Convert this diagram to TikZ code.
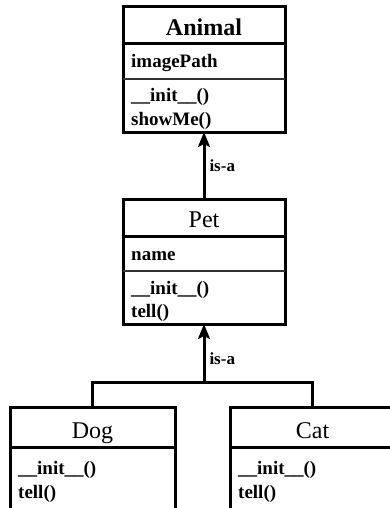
\documentclass[tikz,border=0pt]{standalone}
\usepackage{fontspec}
\setmainfont{Liberation Serif}
\usetikzlibrary{arrows.meta}

\tikzset{
    classbox/.style={draw, line width=3pt, minimum width=162pt, minimum height=125pt,
        inner sep=0pt, outer sep=0pt, anchor=north},
    classname/.style={font=#1\fontsize{24}{28}\selectfont, anchor=base, inner sep=0pt},
    classname/.default=\mdseries,
    member/.style={font=\bfseries\fontsize{19}{23}\selectfont, anchor=base west, inner sep=0pt},
    headrule/.style={line width=3pt},
    featrule/.style={line width=1.6pt, black!80},
    link/.style={line width=3pt},
    isa/.style={link, -{Stealth[length=15pt, width=12pt, inset=3pt]}},
    isalabel/.style={font=\bfseries\fontsize{17}{20}\selectfont, inner sep=1pt}
}

\begin{document}
\begin{tikzpicture}[x=1pt, y=-1pt]

    % Marco fijo del dibujo
    \useasboundingbox (0,0) rectangle (390,508);
    \clip (0,0) rectangle (390,508);

    % --- Clases con atributo (nombre, y, título, fuente, atributo, método) ---
    \foreach \n/\y/\t/\f/\a/\m in {
        animal/7/Animal/\bfseries/imagePath/showMe(),
        pet/199/Pet/\mdseries/name/tell()}{
        % 1. Caja de la clase
        \node[classbox] (\n) at (204,\y) {};

        % 2. Separadores de compartimentos
        \draw[headrule] ([yshift=-37pt]\n.north west) -- ([yshift=-37pt]\n.north east);
        \draw[featrule] ([yshift=-72pt]\n.north west) -- ([yshift=-72pt]\n.north east);

        % 3. Textos
        \node[classname=\f] (\n-name) at ([yshift=-28.5pt]\n.north) {\t};
        \node[member] (\n-attr) at ([xshift=8pt, yshift=-61pt]\n.north west) {\a};
        \node[member] (\n-init) at ([xshift=8pt, yshift=-95pt]\n.north west) {\_\_init\_\_()};
        \node[member] (\n-op) at ([xshift=8pt, yshift=-118pt]\n.north west) {\m};
    }

    % --- Clases hijas (nombre, x, título) ---
    \foreach \n/\x/\t in {dog/92.5/Dog, cat/312.5/Cat}{
        \node[classbox, minimum width=165pt, minimum height=120pt] (\n) at (\x,407) {};
        \draw[headrule] ([yshift=-40pt]\n.north west) -- ([yshift=-40pt]\n.north east);
        \node[classname] (\n-name) at ([yshift=-31pt]\n.north) {\t};
        \node[member] (\n-init) at ([xshift=8pt, yshift=-67pt]\n.north west) {\_\_init\_\_()};
        \node[member] (\n-op) at ([xshift=8pt, yshift=-91pt]\n.north west) {tell()};
    }

    % --- Relaciones de herencia ---
    \coordinate (fork) at (204,382);

    \draw[isa] (pet.north) -- node[isalabel, right=3pt] (isa-top) {is-a} (animal.south);
    \draw[isa] (fork) -- node[isalabel, right=3pt, pos=0.4] (isa-bottom) {is-a} (pet.south);
    \draw[link] (dog.north) |- (fork) -| (cat.north);

\end{tikzpicture}
\end{document}
